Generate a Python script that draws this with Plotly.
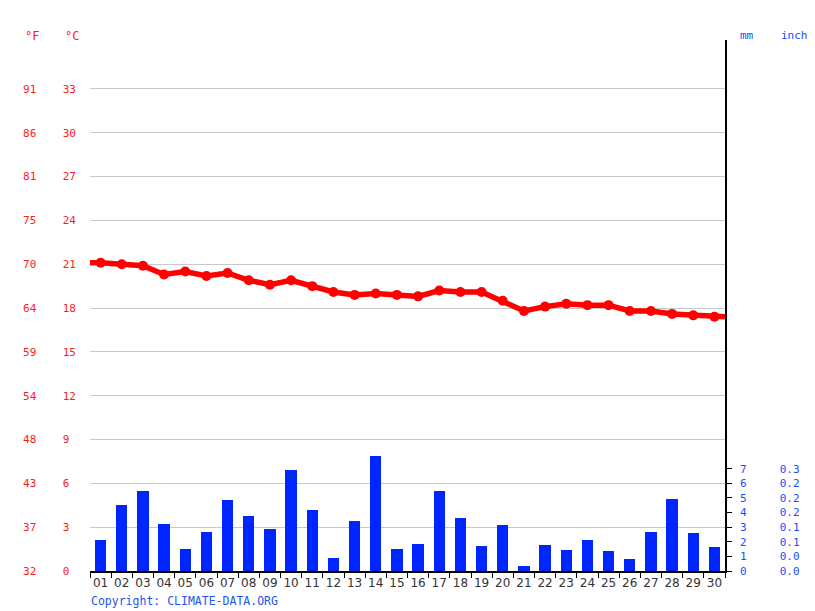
import plotly.graph_objects as go

days = [f"{d:02d}" for d in range(1, 31)]
temp_c = [21.1, 21.0, 20.9, 20.3, 20.5, 20.2, 20.4, 19.9, 19.6, 19.9,
          19.5, 19.1, 18.9, 19.0, 18.9, 18.8, 19.2, 19.1, 19.1, 18.5,
          17.8, 18.1, 18.3, 18.2, 18.2, 17.8, 17.8, 17.6, 17.5, 17.4]
precip_mm = [2.1, 4.5, 5.45, 3.2, 1.5, 2.7, 4.85, 3.75, 2.85, 6.9,
             4.2, 0.9, 3.45, 7.9, 1.5, 1.85, 5.45, 3.6, 1.7, 3.15,
             0.35, 1.75, 1.45, 2.15, 1.35, 0.8, 2.65, 4.95, 2.6, 1.65]
c_ticks = [0, 3, 6, 9, 12, 15, 18, 21, 24, 27, 30, 33]
f_ticks = [32, 37, 43, 48, 54, 59, 64, 70, 75, 81, 86, 91]
mm_ticks = [0, 1, 2, 3, 4, 5, 6, 7]
inch_ticks = ["0.0", "0.0", "0.1", "0.1", "0.2", "0.2", "0.2", "0.3"]

NB = "\u00a0"
MONO = "DejaVu Sans Mono"
RED = "#ff1a1a"
BLUE = "#1a4dff"

xs = list(range(1, 31))
YMAX = 36.35

left_text = [f"{f}{NB*4}{str(c).ljust(2, NB)}" for f, c in zip(f_ticks, c_ticks)]
right_text = [f"{m}{NB*5}{i}" for m, i in zip(mm_ticks, inch_ticks)]

fig = go.Figure()
fig.add_trace(go.Bar(x=xs, y=precip_mm, width=0.54, marker=dict(color="#0026ff", line=dict(width=0)),
                     yaxis="y2", showlegend=False))
fig.add_trace(go.Scatter(x=[0.5] + xs + [30.5], y=[temp_c[0]] + temp_c + [temp_c[-1]],
                         mode="lines", line=dict(color="#ff0000", width=5.5),
                         showlegend=False))
fig.add_trace(go.Scatter(x=xs, y=temp_c, mode="markers",
                         marker=dict(color="#ff0000", size=10),
                         showlegend=False))

# page body has an 8px offset; shift margins accordingly
fig.update_layout(
    width=815, height=611,
    margin=dict(l=82, r=98, t=32, b=48),
    plot_bgcolor="white", paper_bgcolor="white",
    bargap=0,
    xaxis=dict(range=[0.5, 30.5], tickvals=xs, ticktext=days, ticks="",
               showgrid=False, zeroline=False, showline=True, linecolor="black", linewidth=1.5,
               tickfont=dict(family="DejaVu Sans", size=12, color="#333333"),
               ticklabelstandoff=0,
               minor=dict(tickvals=[x + 0.5 for x in range(0, 31)], ticks="outside",
                          ticklen=5, tickcolor="black", tickwidth=1, showgrid=False),
               fixedrange=True),
    yaxis=dict(range=[0, YMAX], tickvals=c_ticks, ticktext=left_text,
               showgrid=True, gridcolor="#c8c8c8", gridwidth=1, zeroline=False,
               showline=False, ticks="", ticklabelstandoff=13,
               tickfont=dict(family=MONO, size=11, color=RED)),
    yaxis2=dict(range=[0, YMAX], overlaying="y", side="right", tickvals=mm_ticks,
                ticktext=right_text, showgrid=False, zeroline=False,
                showline=True, linecolor="black", linewidth=1.5,
                ticks="outside", ticklen=5, tickcolor="black", tickwidth=1,
                ticklabelstandoff=6,
                tickfont=dict(family=MONO, size=11, color=BLUE)),
)

def px_x(px):
    return (px - 90) / 635

def px_y(py):
    return (571 - py) / 531

for txt, x, col, sz in [("°F", 23, RED, 12), ("°C", 63, RED, 12),
                        ("mm", 738, BLUE, 11), ("inch", 779, BLUE, 11)]:
    fig.add_annotation(text=txt, x=px_x(x), y=px_y(36), xref="paper", yref="paper",
                       xanchor="left", yanchor="middle", showarrow=False,
                       font=dict(family=MONO, size=sz, color=col))

fig.add_annotation(text="Copyright: CLIMATE-DATA.ORG", x=px_x(89), y=px_y(601),
                   xref="paper", yref="paper", xanchor="left", yanchor="middle",
                   showarrow=False, font=dict(family=MONO, size=11.5, color="#2255ee"))

fig.write_html("out.html")
